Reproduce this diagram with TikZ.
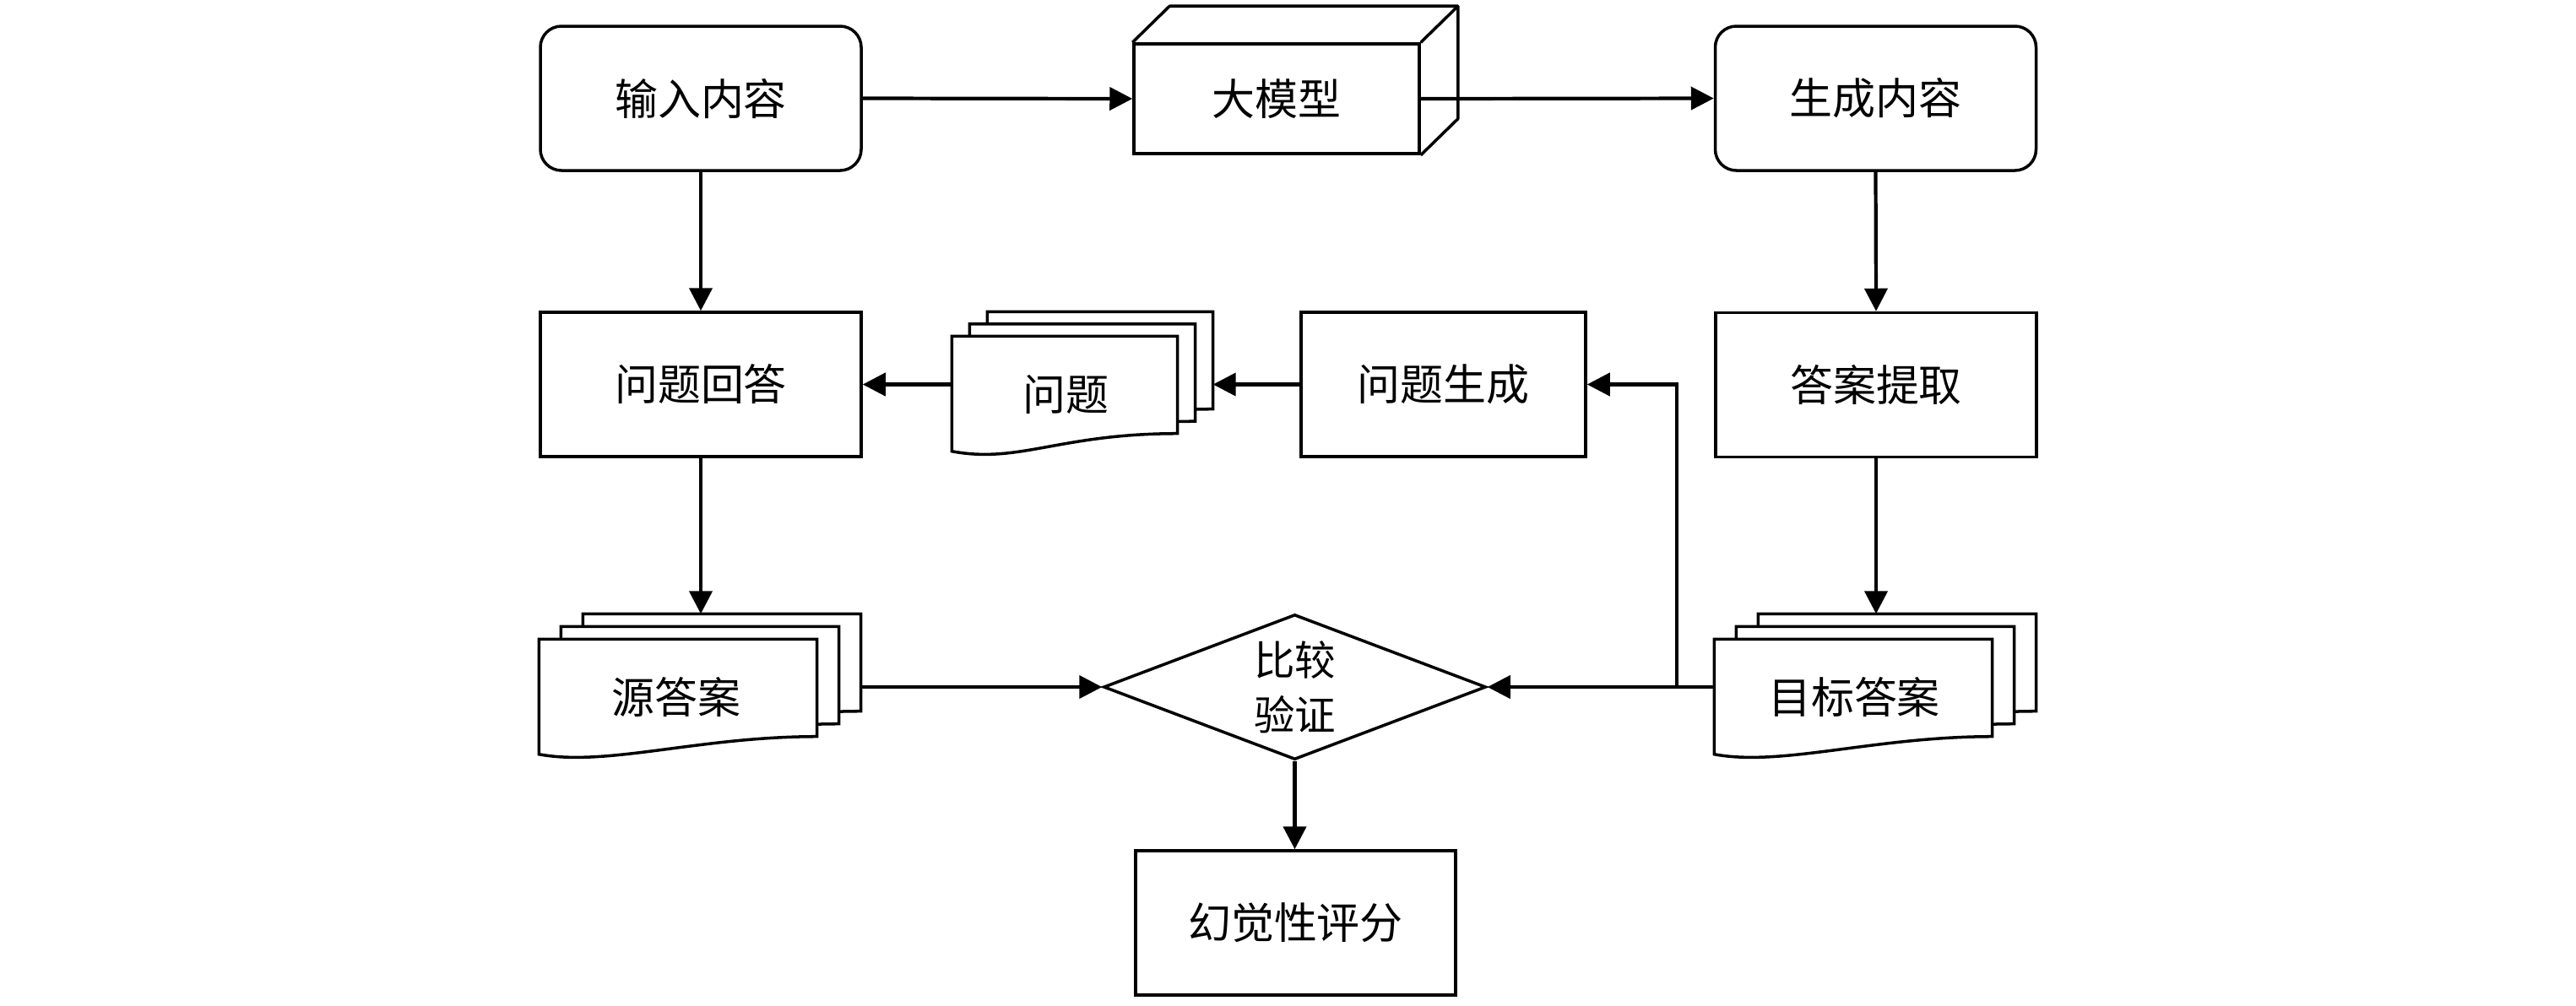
\documentclass[tikz,border=0pt]{standalone}
\usepackage{fontspec}
\setmainfont{Noto Sans CJK SC}
\usetikzlibrary{arrows.meta,shapes.geometric}

\tikzset{
  box/.style={draw, line width=1pt, minimum width=3.8cm, minimum height=1.71cm,
    inner sep=0pt, font=\fontsize{14.5}{18.5}\selectfont},
  roundbox/.style={box, rounded corners=0.25cm},
  sheet/.style={rectangle, inner sep=0pt, minimum height=1.14cm},
  sheetline/.style={draw, fill=white, line width=1pt},
  label/.style={font=\fontsize{14.5}{18.5}\selectfont, inner sep=0pt},
  link/.style={line width=1.2pt, -{Triangle[length=2.7mm,width=2.7mm]}},
}

% one sheet of a document stack: name, x, y, width
\newcommand{\docsheet}[4]{%
  \node[sheet, minimum width=#4cm] (#1) at (#2,#3) {};
  \draw[sheetline] ([yshift=-2.1mm]#1.south west) -- (#1.north west) -- (#1.north east)
    -- (#1.south east) .. controls +(-1.4,0) and +(0.8,-0.15) .. ([yshift=-2.1mm]#1.south west) -- cycle;
}

\begin{document}
\begin{tikzpicture}
  \useasboundingbox (0,0) rectangle (30.51,-11.91);

  % Top row
  \node[roundbox] (input) at (8.30,-1.165) {输入内容};
  \node[box, minimum width=3.38cm, minimum height=1.30cm] (llm) at (15.12,-1.17) {大模型};
  \draw[line width=1pt, line join=round] (llm.north west) -- ++(0.44,0.43) -| ([shift={(0.44,0.43)}]llm.south east) -- (llm.south east);
  \draw[line width=1pt] (llm.north east) -- ++(0.44,0.43);
  \node[roundbox] (output) at (22.215,-1.165) {生成内容};

  % Middle row
  \node[box] (answer) at (8.30,-4.555) {问题回答};
  \docsheet{qback}{13.03}{-4.27}{2.66}
  \docsheet{qmid}{12.82}{-4.415}{2.66}
  \docsheet{qfront}{12.61}{-4.56}{2.66}
  \node[label] (qtext) at (12.62,-4.67) {问题};
  \node[box, minimum width=3.37cm] (qgen) at (17.095,-4.555) {问题生成};
  \node[box] (extract) at (22.22,-4.56) {答案提取};

  % Answer stacks
  \docsheet{srcback}{8.55}{-7.85}{3.28}
  \docsheet{srcmid}{8.29}{-8.00}{3.28}
  \docsheet{srcfront}{8.03}{-8.15}{3.28}
  \node[label] (srctext) at (8.01,-8.26) {源答案};
  \docsheet{tgtback}{22.47}{-7.85}{3.28}
  \docsheet{tgtmid}{22.21}{-8.00}{3.28}
  \docsheet{tgtfront}{21.95}{-8.15}{3.28}
  \node[label] (tgttext) at (21.96,-8.26) {目标答案};

  % Comparison and score
  \node[diamond, draw, line width=1pt, inner sep=0pt, aspect=2.63,
    minimum width=4.53cm, minimum height=1.72cm] (cmp) at (15.335,-8.14) {};
  \node[label, align=center, font=\fontsize{13.8}{18.5}\selectfont] (cmptext) at (15.335,-8.145) {比较\\验证};
  \node[box, minimum width=3.79cm] (score) at (15.345,-10.935) {幻觉性评分};
  \coordinate (split) at (19.86,-8.14);

  % Connectors
  \draw[link] (input.east) -- (llm.west);
  \draw[link] (llm.east) -- (output.west);
  \draw[link] (input.south) -- (answer.north);
  \draw[link] (output.south) -- (extract.north);
  \draw[link] (qgen.west) -- (qgen.west -| qback.east);
  \draw[link] (qfront.west |- answer.east) -- (answer.east);
  \draw[link] (answer.south) -- (answer.south |- srcback.north);
  \draw[link] (extract.south) -- (extract.south |- tgtback.north);
  \draw[link] (srcback.east |- cmp.west) -- (cmp.west);
  \draw[link] (tgtfront.west |- cmp.east) -- (cmp.east);
  \draw[link] (split) |- (qgen.east);
  \draw[link] (cmp.south) -- (cmp.south |- score.north);
\end{tikzpicture}
\end{document}
